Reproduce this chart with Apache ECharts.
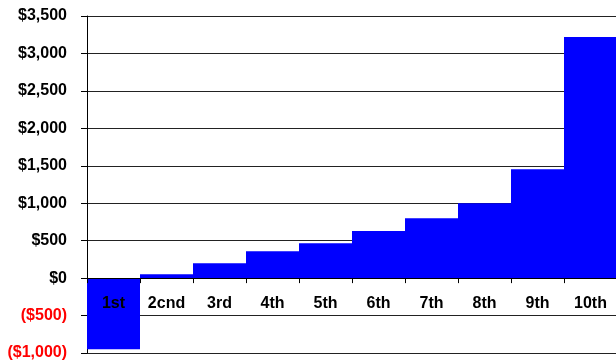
<!DOCTYPE html>
<html>
<head>
<meta charset="utf-8">
<script src="https://cdn.jsdelivr.net/npm/echarts@6/dist/echarts.min.js"></script>
<style>
  html, body { margin: 0; padding: 0; background: #fff; }
  #chart { width: 616px; height: 362px; }
</style>
</head>
<body>
<div id="chart"></div>
<script>
const categories = ['1st', '2cnd', '3rd', '4th', '5th', '6th', '7th', '8th', '9th', '10th'];
const values = [-950, 50, 200, 360, 465, 630, 800, 1000, 1455, 3220];
const yMin = -1000;
const yMax = 3500;

const chart = echarts.init(document.getElementById('chart'));

// $1,500 style, negatives in parentheses
const money = (v) => {
  const s = '$' + Math.abs(v).toLocaleString('en-US');
  return v < 0 ? '(' + s + ')' : s;
};

const plotTop = 16;
const plotHeight = 337;
// move the category axis up to the zero line
const zeroOffset = -plotHeight * (0 - yMin) / (yMax - yMin);

chart.setOption({
  backgroundColor: '#fff',
  animation: false,
  grid: { left: 87, top: plotTop, width: 530, height: plotHeight, containLabel: false, outerBoundsMode: 'none' },
  xAxis: {
    type: 'category',
    data: categories,
    position: 'bottom',
    offset: zeroOffset,
    z: 5,
    axisLine: { onZero: false, lineStyle: { color: '#000', width: 1 } },
    axisTick: { show: true, length: 5, lineStyle: { color: '#000' } },
    axisLabel: {
      margin: 17,
      color: '#000',
      fontFamily: 'Liberation Sans, Arial, sans-serif',
      fontWeight: 'bold',
      fontSize: 16
    }
  },
  yAxis: {
    type: 'value',
    min: yMin,
    max: yMax,
    interval: 500,
    axisLine: { show: true, lineStyle: { color: '#000', width: 1 } },
    axisTick: { show: true, length: 6, lineStyle: { color: '#000' } },
    splitLine: { lineStyle: { color: '#222', width: 1 } },
    axisLabel: {
      margin: 20,
      fontFamily: 'Liberation Sans, Arial, sans-serif',
      fontWeight: 'bold',
      fontSize: 16,
      color: (v) => (v < 0 ? '#ff0000' : '#000'),
      formatter: (v) => money(v)
    }
  },
  series: [
    {
      type: 'bar',
      data: values,
      barWidth: '100%',
      barCategoryGap: 0,
      itemStyle: { color: '#0000ff' }
    }
  ]
});
</script>
</body>
</html>
